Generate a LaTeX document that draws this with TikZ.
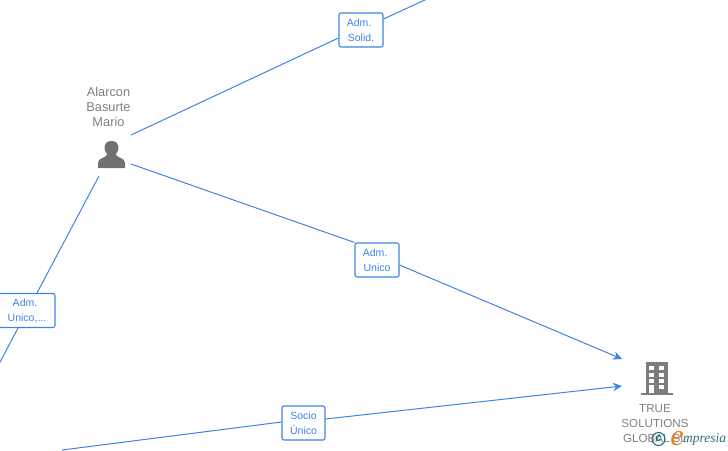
\documentclass[tikz,border=0pt]{standalone}
\usepackage{fontspec}
\setmainfont{Liberation Sans}
\newfontfamily\logofont{Liberation Serif}
\definecolor{linkblue}{RGB}{62, 132, 228}
\definecolor{icongray}{RGB}{112, 112, 112}
\definecolor{towergray}{RGB}{125, 125, 125}
\definecolor{namegray}{RGB}{128, 128, 128}
\definecolor{logoteal}{RGB}{40, 110, 125}
\definecolor{logoorange}{RGB}{235, 130, 30}
\usetikzlibrary{arrows.meta, positioning}

\begin{document}
\begin{tikzpicture}[x=1pt, y=-1pt, >={Stealth[length=9pt,width=8.5pt]},
	linkbox/.style={draw=linkblue, fill=white, rounded corners=2pt, line width=1.1pt, text=linkblue, align=center, inner sep=0pt, minimum height=34pt, font=\fontsize{10.5}{15}\selectfont, execute at begin node={\rule{0pt}{10pt}}},
	link/.style={draw=linkblue, line width=1pt},
	namelabel/.style={text=namegray, align=center, inner sep=0pt}]
	%Bildbereich
	\useasboundingbox (0,0) rectangle (728,450);
	% Punkte
	\node[inner sep=0pt, minimum size=28pt] (person) at (111,155) {};
	\node[inner sep=0pt, minimum size=36pt] (company) at (656,378) {};
	\coordinate (persontop) at (131,135);
	\coordinate (personmid) at (131,164);
	\coordinate (personlow) at (99,176);
	\coordinate (outtop) at (427,-1);
	\coordinate (outleft) at (-1,364);
	\coordinate (outlow) at (62,450);
	\coordinate (companytop) at (622,359);
	\coordinate (companylow) at (622,386);
	% Verbindungen
	\node[linkbox, minimum width=44pt] (admsolid) at (361,30) {Adm.\kern4pt\\Solid.};
	\node[linkbox, minimum width=44pt] (admunico) at (377,260) {Adm.\kern4pt\\Unico};
	\node[linkbox, minimum width=56pt] (admunicos) at (27,310.5) {Adm.\kern4pt\\Unico,...};
	\node[linkbox, minimum width=43pt] (sociounico) at (303.5,423) {Socio\\Único};
	\draw[link] (persontop) -- (admsolid.west |- 0,38);
	\draw[link] (admsolid.east |- 0,19) -- (outtop);
	\draw[link] (personmid) -- (admunico.north west);
	\draw[link,->] (admunico.east |- 0,265) -- (companytop);
	\draw[link] (personlow) -- (admunicos.north -| 37,0);
	\draw[link] (admunicos.south -| 18,0) -- (outleft);
	\draw[link] (outlow) -- (sociounico.west |- 0,422);
	\draw[link,->] (sociounico.east |- 0,419) -- (companylow);
	% Person
	\fill[icongray] (98,168) -- (98,163) .. controls (98,158) and (105,158) .. (107,155) -- (107,154)
		.. controls (103,150) and (103,141) .. (111.5,141) .. controls (120,141) and (120,150) .. (116,154) -- (116,155)
		.. controls (118,158) and (125,158) .. (125,163) -- (125,168) -- cycle;
	\node[namelabel, font=\fontsize{12.8}{15}\selectfont, above=14pt of person, xshift=-2.5pt] (personname) {Alarcon\\Basurte\\Mario};
	% Firma
	\fill[towergray] (646,362) rectangle (668,393);
	\fill[towergray] (641,393) rectangle (673,395);
	\foreach \x in {649,659} \foreach \y in {366,372.5,379,385}
		\fill[white] (\x,\y) rectangle (\x+5,\y+4);
	\fill[white] (649,389) rectangle (654,393);
	\node[namelabel, font=\fontsize{11.6}{15}\selectfont, anchor=north] (companyname) at (655,404.5) {TRUE\\SOLUTIONS\\GLOBAL SL};
	% Logo
	\node[circle, draw=logoteal, line width=1.1pt, inner sep=0pt, minimum size=13pt, text=logoteal, font=\fontsize{11}{11}\selectfont\bfseries] (logoc) at (658.5,439) {c};
	\node[inner sep=0pt, text=logoorange, font=\logofont\itshape\fontsize{30}{30}\selectfont] (logoe) at (677,439) {e};
	\node[inner sep=0pt, anchor=west, text=logoteal, font=\logofont\itshape\fontsize{13.5}{14}\selectfont] (logotext) at (683,439) {mpresia};
\end{tikzpicture}
\end{document}
